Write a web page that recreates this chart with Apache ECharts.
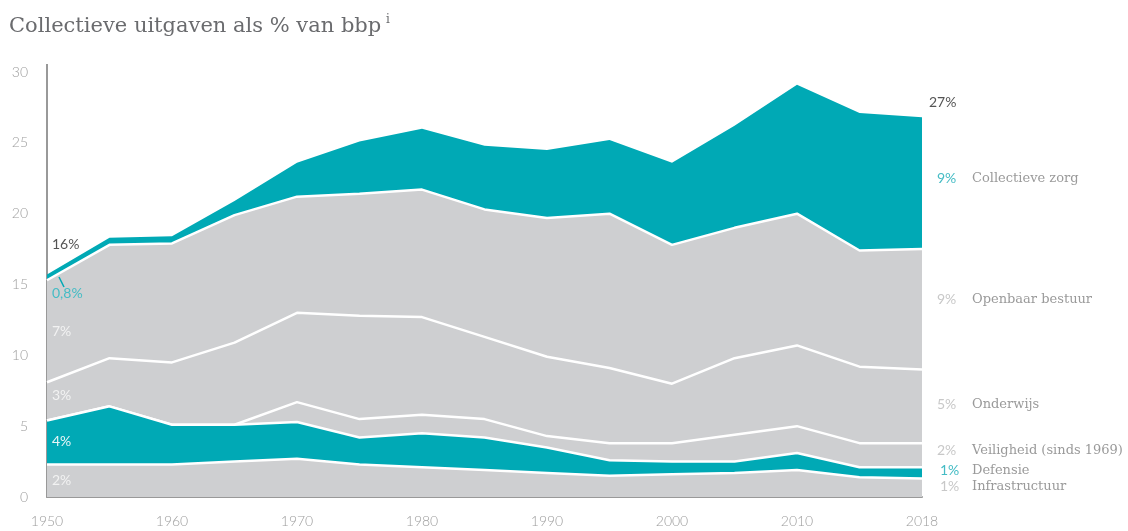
<!DOCTYPE html>
<html>
<head>
<meta charset="utf-8">
<script src="https://cdn.jsdelivr.net/npm/echarts@6/dist/echarts.min.js"></script>
<style>
  html, body { margin: 0; padding: 0; background: #fff; }
  #main { width: 1128px; height: 531px; }
</style>
</head>
<body>
<div id="main"></div>
<script>
// jaren (laatste punt is 2018)
var years = ['1950', '1955', '1960', '1965', '1970', '1975', '1980', '1985', '1990', '1995', '2000', '2005', '2010', '2015', '2018'];

// collectieve uitgaven per post, % van bbp (van onder naar boven gestapeld)
var infrastructuur = [2.3, 2.3, 2.3, 2.5, 2.7, 2.3, 2.1, 1.9, 1.7, 1.5, 1.6, 1.7, 1.9, 1.4, 1.3];
var defensie = [3.1, 4.1, 2.8, 2.6, 2.6, 1.9, 2.4, 2.3, 1.8, 1.1, 0.9, 0.8, 1.2, 0.7, 0.8];
var veiligheid = [0, 0, 0, 0, 1.4, 1.3, 1.3, 1.3, 0.8, 1.2, 1.3, 1.9, 1.9, 1.7, 1.7];
var onderwijs = [2.7, 3.4, 4.4, 5.8, 6.3, 7.3, 6.9, 5.8, 5.6, 5.3, 4.2, 5.4, 5.7, 5.4, 5.2];
var openbaarBestuur = [7.2, 8.0, 8.4, 9.0, 8.2, 8.6, 9.0, 9.0, 9.8, 10.9, 9.8, 9.2, 9.3, 8.2, 8.5];
var collectieveZorg = [0.4, 0.5, 0.5, 1.0, 2.4, 3.7, 4.3, 4.5, 4.8, 5.2, 5.8, 7.2, 9.1, 9.7, 9.3];

var yTicks = [0, 5, 10, 15, 20, 25, 30];

var TEAL = '#00a9b5';
var GREY = '#cecfd1';

var myChart = echarts.init(document.getElementById('main'));

function layer(name, data, color, z, line) {
    return {
        name: name,
        type: 'line',
        stack: 'totaal',
        data: data,
        z: z,
        symbol: 'none',
        showSymbol: false,
        silent: true,
        lineStyle: line ? { color: '#ffffff', width: 2.5 } : { width: 0 },
        areaStyle: { color: color, opacity: 1 }
    };
}

var sans = 'Lato, "Open Sans", sans-serif';
var serif = '"DejaVu Serif", serif';

function txt(x, y, s, color, font, size, weight) {
    return {
        type: 'text', left: x, top: y - size * 0.62, silent: true, z: 100,
        style: { text: s, fill: color, font: (weight || 'normal') + ' ' + size + 'px ' + font }
    };
}

var option = {
    animation: false,
    backgroundColor: '#ffffff',
    title: {
        text: 'Collectieve uitgaven als % van bbp',
        left: 4, top: 11,
        textStyle: { color: '#6a6b6e', fontFamily: serif, fontSize: 21, fontWeight: 'normal' }
    },
    grid: { left: 47, right: 206, top: 72, bottom: 34 },
    xAxis: {
        type: 'category',
        data: years,
        boundaryGap: false,
        axisLine: { lineStyle: { color: '#999999', width: 2 } },
        axisTick: { show: false },
        axisLabel: {
            interval: 1,
            margin: 17,
            color: '#9d9d9d',
            fontFamily: sans,
            fontWeight: 300,
            fontSize: 14
        },
        splitLine: { show: false }
    },
    yAxis: {
        type: 'value',
        min: yTicks[0],
        max: yTicks[yTicks.length - 1],
        interval: 5,
        axisLine: { show: true, lineStyle: { color: '#999999', width: 2 } },
        axisTick: { show: false },
        axisLabel: {
            margin: 19,
            color: '#9d9d9d',
            fontFamily: sans,
            fontWeight: 300,
            fontSize: 14
        },
        splitLine: { show: false }
    },
    series: [
        layer('Infrastructuur', infrastructuur, GREY, 8, true),
        layer('Defensie', defensie, TEAL, 7, true),
        layer('Veiligheid (sinds 1969)', veiligheid, GREY, 6, true),
        layer('Onderwijs', onderwijs, GREY, 5, true),
        layer('Openbaar bestuur', openbaarBestuur, GREY, 4, true),
        layer('Collectieve zorg', collectieveZorg, TEAL, 3, false)
    ],
    graphic: [
        // superscript bij titel
        txt(386, 21, 'i', '#6a6b6e', serif, 12),
        // y-as loopt iets door boven 30
        {
            type: 'line', silent: true, z: 100,
            shape: { x1: 47, y1: 64, x2: 47, y2: 73 },
            style: { stroke: '#999999', lineWidth: 2 }
        },
        // labels links
        txt(52, 246, '16%', '#555555', sans, 14),
        {
            type: 'line', silent: true, z: 100,
            shape: { x1: 59, y1: 277, x2: 64, y2: 287 },
            style: { stroke: TEAL, lineWidth: 1.5 }
        },
        txt(52, 295, '0,8%', '#45bcc5', sans, 14),
        txt(52, 333, '7%', '#f2f2f2', sans, 14),
        txt(52, 397, '3%', '#f2f2f2', sans, 14),
        txt(52, 443, '4%', '#e8f6f7', sans, 14),
        txt(52, 482, '2%', '#f2f2f2', sans, 14),
        // labels rechts
        txt(929, 104, '27%', '#555555', sans, 14),
        txt(937, 180, '9%', '#45bcc5', sans, 14),
        txt(972, 180, 'Collectieve zorg', '#9a9a9a', serif, 13),
        txt(937, 301, '9%', '#c8c8c8', sans, 14),
        txt(972, 301, 'Openbaar bestuur', '#9a9a9a', serif, 13),
        txt(937, 406, '5%', '#c8c8c8', sans, 14),
        txt(972, 406, 'Onderwijs', '#9a9a9a', serif, 13),
        txt(937, 452, '2%', '#c8c8c8', sans, 14),
        txt(972, 452, 'Veiligheid (sinds 1969)', '#9a9a9a', serif, 13),
        txt(940, 472, '1%', '#45bcc5', sans, 14),
        txt(972, 472, 'Defensie', '#9a9a9a', serif, 13),
        txt(940, 488, '1%', '#c8c8c8', sans, 14),
        txt(972, 488, 'Infrastructuur', '#9a9a9a', serif, 13)
    ]
};

myChart.setOption(option);
</script>
</body>
</html>
